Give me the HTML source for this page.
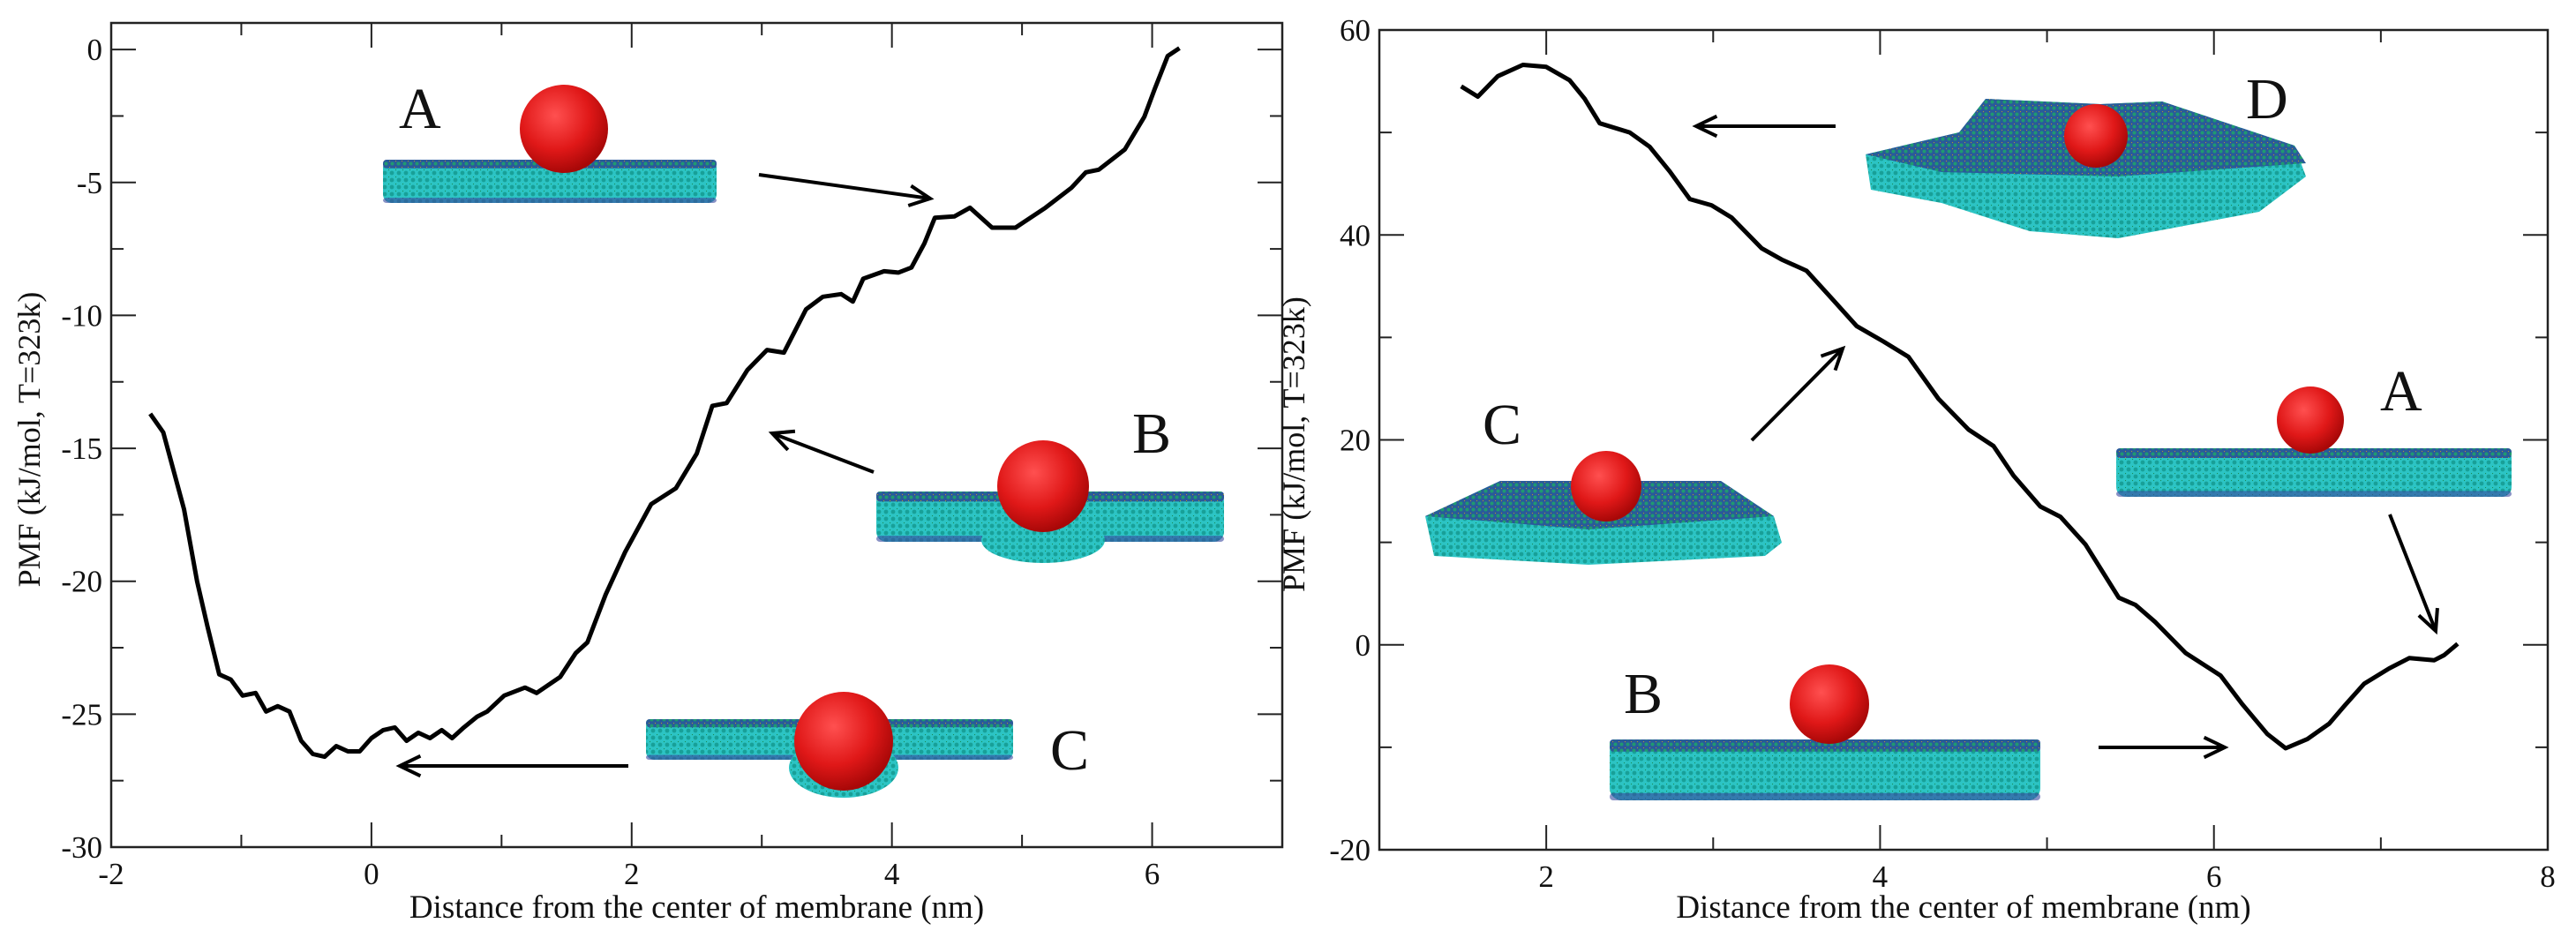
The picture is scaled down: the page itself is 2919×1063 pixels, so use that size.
<!DOCTYPE html>
<html><head><meta charset="utf-8"><style>
html,body{margin:0;padding:0;background:#fff;}
svg{display:block;font-family:"Liberation Serif",serif;}
</style></head><body>
<svg id="chart" width="2919" height="1063" viewBox="0 0 2919 1063" xmlns="http://www.w3.org/2000/svg">
<defs>
<radialGradient id="sph" cx="40%" cy="35%" r="65%"><stop offset="0" stop-color="#ff5050"/><stop offset="0.6" stop-color="#e01818"/><stop offset="1" stop-color="#a80808"/></radialGradient>
<pattern id="lip" width="8" height="8" patternUnits="userSpaceOnUse"><rect width="8" height="8" fill="#2cc4c4"/><circle cx="4" cy="4" r="2.4" fill="#18a098"/><circle cx="0" cy="0" r="1.2" fill="#1a8a50"/></pattern>
<pattern id="lipTop" width="7" height="7" patternUnits="userSpaceOnUse"><rect width="7" height="7" fill="#2a5a9a"/><circle cx="3.5" cy="3.5" r="2" fill="#1f9a70"/><circle cx="0" cy="0" r="1.2" fill="#b8962a"/></pattern>
</defs>
<g id="left"></g>
<g id="right"></g>
<g id="art"></g>
</svg>
<script>
const NS="http://www.w3.org/2000/svg";
// Left panel data
const leftX=[-1.70,-1.60,-1.44,-1.34,-1.26,-1.17,-1.08,-0.99,-0.89,-0.81,-0.72,-0.63,-0.54,-0.45,-0.36,-0.27,-0.18,-0.09,0.0,0.09,0.18,0.27,0.36,0.45,0.54,0.62,0.71,0.81,0.89,1.02,1.18,1.27,1.45,1.57,1.66,1.80,1.95,2.15,2.34,2.50,2.62,2.73,2.89,3.04,3.17,3.34,3.47,3.61,3.70,3.78,3.94,4.05,4.15,4.25,4.33,4.48,4.60,4.77,4.95,5.18,5.38,5.49,5.59,5.79,5.94,6.02,6.12,6.21];
const leftY=[-13.7,-14.4,-17.3,-20.0,-21.7,-23.5,-23.7,-24.3,-24.2,-24.9,-24.7,-24.9,-26.0,-26.5,-26.6,-26.2,-26.4,-26.4,-25.9,-25.6,-25.5,-26.0,-25.7,-25.9,-25.6,-25.9,-25.5,-25.1,-24.9,-24.3,-24.0,-24.2,-23.6,-22.7,-22.3,-20.5,-18.9,-17.1,-16.5,-15.2,-13.4,-13.3,-12.05,-11.3,-11.4,-9.77,-9.3,-9.2,-9.48,-8.62,-8.34,-8.39,-8.2,-7.29,-6.33,-6.28,-5.95,-6.7,-6.7,-5.95,-5.2,-4.62,-4.52,-3.76,-2.53,-1.48,-0.24,0.05];
const leftXTicks=[-2,0,2,4,6];
const leftYTicks=[0,-5,-10,-15,-20,-25,-30];
// Right panel data
const rightX=[1.49,1.59,1.71,1.86,2.0,2.14,2.23,2.32,2.50,2.62,2.74,2.86,2.99,3.11,3.29,3.41,3.56,3.71,3.86,4.02,4.17,4.35,4.53,4.68,4.80,4.96,5.08,5.23,5.43,5.53,5.65,5.83,6.04,6.17,6.32,6.43,6.56,6.69,6.78,6.90,7.05,7.17,7.32,7.38,7.46];
const rightY=[54.5,53.5,55.5,56.6,56.4,55.1,53.3,50.9,50.0,48.6,46.2,43.5,42.9,41.7,38.7,37.6,36.5,33.8,31.1,29.6,28.1,24.0,21.0,19.4,16.5,13.5,12.5,9.8,4.6,3.9,2.2,-0.8,-3.0,-5.8,-8.7,-10.1,-9.2,-7.7,-6.0,-3.8,-2.3,-1.3,-1.5,-1.0,0.1];
const rightXTicks=[2,4,6,8];
const rightYTicks=[60,40,20,0,-20];

function el(tag,attrs,parent,text){const e=document.createElementNS(NS,tag);for(const k in attrs)e.setAttribute(k,attrs[k]);if(text!==undefined)e.textContent=text;parent.appendChild(e);return e;}

function panel(g,cfg){
  const sx=v=>cfg.x0+(v-cfg.xmin)/(cfg.xmax-cfg.xmin)*(cfg.x1-cfg.x0);
  const sy=v=>cfg.y1-(v-cfg.ymin)/(cfg.ymax-cfg.ymin)*(cfg.y1-cfg.y0);
  const frame=el('rect',{x:cfg.x0,y:cfg.y0,width:cfg.x1-cfg.x0,height:cfg.y1-cfg.y0,fill:'none',stroke:'#222','stroke-width':2.5},g);
  
  
  for(let v=Math.ceil(cfg.xmin);v<=cfg.xmax;v+=1){
    const major=((v-cfg.xMajorBase)%2===0);const L=major?28:14;const X=sx(v);
    el('line',{x1:X,y1:cfg.y1,x2:X,y2:cfg.y1-L,stroke:'#222','stroke-width':2},g);
    el('line',{x1:X,y1:cfg.y0,x2:X,y2:cfg.y0+L,stroke:'#222','stroke-width':2},g);
  }
  for(const t of cfg.xTicks){
    const tx=el('text',{x:sx(t),y:cfg.y1+42,'font-size':35,'text-anchor':'middle',fill:'#111'},g,String(t));
    
    
  }
  for(let v=cfg.ymin;v<=cfg.ymax+1e-9;v+=cfg.yMinorStep){
    const major=Math.abs((v/cfg.yMajorStep)-Math.round(v/cfg.yMajorStep))<1e-6;const L=major?28:14;const Y=sy(v);
    el('line',{x1:cfg.x0,y1:Y,x2:cfg.x0+L,y2:Y,stroke:'#222','stroke-width':2},g);
    el('line',{x1:cfg.x1,y1:Y,x2:cfg.x1-L,y2:Y,stroke:'#222','stroke-width':2},g);
  }
  for(const t of cfg.yTicks){
    const ty=el('text',{x:cfg.x0-10,y:sy(t)+12,'font-size':35,'text-anchor':'end',fill:'#111'},g,String(t));
    
    
  }
  const xt=el('text',{x:(cfg.x0+cfg.x1)/2,y:1040,'font-size':37,'text-anchor':'middle',fill:'#111'},g,'Distance from the center of membrane (nm)');
  
  
  const yt=el('text',{x:0,y:0,'font-size':36,'text-anchor':'middle',fill:'#111',transform:`translate(${cfg.ytx},${(cfg.y0+cfg.y1)/2+5}) rotate(-90)`},g,'PMF (kJ/mol, T=323k)');
  
  
  let d='';cfg.xs.forEach((v,i)=>{d+=(i?'L':'M')+sx(v).toFixed(1)+','+sy(cfg.ys[i]).toFixed(1);});
  const p=el('path',{d:d,fill:'none',stroke:'#000','stroke-width':5,'stroke-linejoin':'round'},g);
  
  
}
panel(document.getElementById('left'),{x0:126,x1:1453,y0:26,y1:960,xmin:-2,xmax:7,ymin:-30,ymax:1,xMajorBase:0,yMinorStep:2.5,yMajorStep:5,xTicks:leftXTicks,yTicks:leftYTicks,xs:leftX,ys:leftY,ytx:45});
panel(document.getElementById('right'),{x0:1563,x1:2887,y0:34,y1:963,xmin:1,xmax:8,ymin:-20,ymax:60,xMajorBase:0,yMinorStep:10,yMajorStep:20,xTicks:rightXTicks,yTicks:rightYTicks,xs:rightX,ys:rightY,ytx:1478});

const art=document.getElementById('art');
function membrane(x,y,w,h,name){
  const g=el('g',{},art);
  
  
  el('rect',{x:x,y:y,width:w,height:h,rx:h*0.2,fill:'url(#lip)'},g);
  el('rect',{x:x,y:y,width:w,height:h*0.2,rx:4,fill:'url(#lipTop)'},g);
  el('rect',{x:x,y:y+h*0.88,width:w,height:h*0.12,rx:4,fill:'#3a4aa0',opacity:0.6},g);
  return g;
}
function slab(pts,topPts,name){
  const g=el('g',{},art);
  
  
  el('polygon',{points:pts,fill:'url(#lip)'},g);
  el('polygon',{points:topPts,fill:'url(#lipTop)'},g);
  return g;
}
function sphere(cx,cy,r,name){
  const c=el('circle',{cx:cx,cy:cy,r:r,fill:'url(#sph)'},art);
  
  
}
function label(x,y,s,name){
  const t=el('text',{x:x,y:y,'font-size':66,fill:'#111'},art,s);
  
  
}
function arrow(x1,y1,x2,y2,name){
  const g=el('g',{},art);
  
  
  el('line',{x1:x1,y1:y1,x2:x2,y2:y2,stroke:'#000','stroke-width':4},g);
  const a=Math.atan2(y2-y1,x2-x1),L=26,s=0.45;
  el('polyline',{points:`${x2-L*Math.cos(a-s)},${y2-L*Math.sin(a-s)} ${x2},${y2} ${x2-L*Math.cos(a+s)},${y2-L*Math.sin(a+s)}`,fill:'none',stroke:'#000','stroke-width':4},g);
}
membrane(434,181,378,49,'membrane-a-left');
sphere(639,146,50,'nanoparticle-a-left');
label(452,145,'A','label-a-left');
arrow(860,198,1054,225,'arrow-a-left');

membrane(993,557,394,57,'membrane-b-left');
el('ellipse',{cx:1182,cy:612,rx:70,ry:26,fill:'url(#lip)'},art);
sphere(1182,551,52,'nanoparticle-b-left');
label(1283,513,'B','label-b-left');
arrow(990,535,875,491,'arrow-b-left');

membrane(732,815,416,46,'membrane-c-left');
el('ellipse',{cx:956,cy:870,rx:62,ry:34,fill:'url(#lip)'},art);
sphere(956,840,56,'nanoparticle-c-left');
label(1190,872,'C','label-c-left');
arrow(712,868,453,868,'arrow-c-left');

slab('2114,175 2220,150 2250,112 2380,118 2450,115 2600,165 2613,200 2560,240 2400,270 2300,262 2200,230 2120,215','2114,175 2220,150 2250,112 2380,118 2450,115 2600,165 2613,185 2400,200 2200,195','membrane-d-right');
sphere(2375,154,36,'nanoparticle-d-right');
label(2545,134,'D','label-d-right');
arrow(2080,143,1922,143,'arrow-d-right');

slab('1615,585 1700,545 1950,545 2010,585 2019,615 2000,630 1800,640 1625,630','1615,585 1700,545 1950,545 2010,585 1800,600','membrane-c-right');
sphere(1820,551,40,'nanoparticle-c-right');
label(1680,503,'C','label-c-right');
arrow(1985,499,2088,395,'arrow-c-right');

membrane(2398,508,448,55,'membrane-a-right');
sphere(2618,476,38,'nanoparticle-a-right');
label(2697,465,'A','label-a-right');
arrow(2708,583,2760,715,'arrow-a-right');

membrane(1824,838,488,69,'membrane-b-right');
sphere(2073,798,45,'nanoparticle-b-right');
label(1840,808,'B','label-b-right');
arrow(2378,847,2521,847,'arrow-b-right');
</script>
</body></html>
